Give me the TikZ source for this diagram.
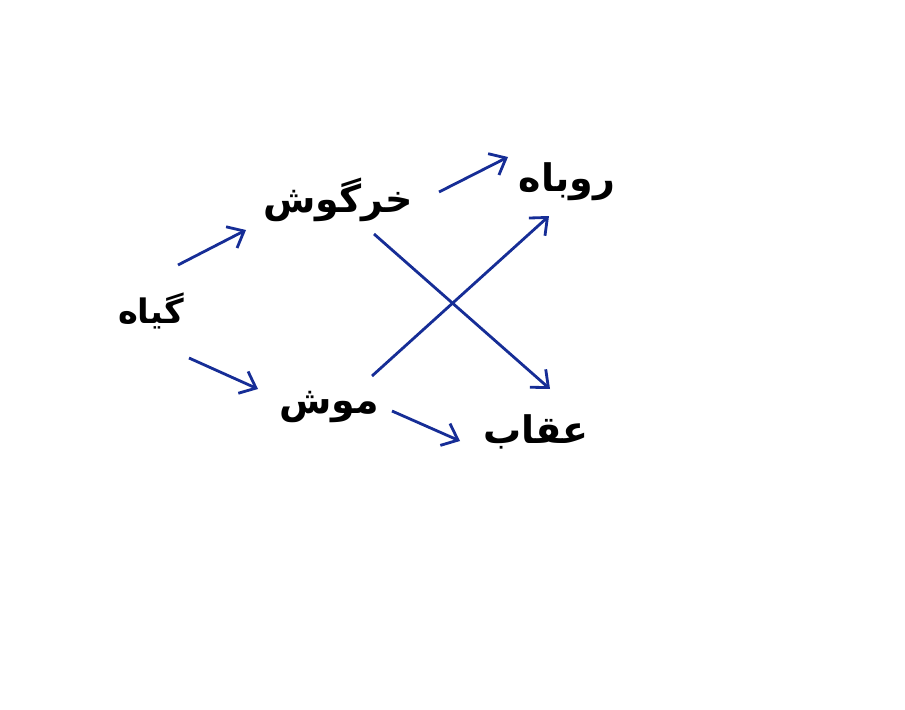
\documentclass[tikz,border=0pt]{standalone}
\usepackage{fontspec}
\newfontfamily\farsi[Script=Arabic]{DejaVu Sans}
\TeXXeTstate=1
\usepackage{xcolor}
\definecolor{arrowblue}{RGB}{22,45,150}
\usetikzlibrary{arrows.meta}

\begin{document}
\begin{tikzpicture}
[x=0.025cm, y=-0.025cm,
 >={Straight Barb[length=10pt,width=17pt]},
 every node/.style={font=\farsi\bfseries\fontsize{27}{31}\selectfont, inner sep=0pt},
 arr/.style={->, draw=arrowblue, line width=2pt},
]
\useasboundingbox (0,0) rectangle (905,709);

\node (giah)  at (151,311) {\fontsize{24}{28}\selectfont\beginR گیاه\endR};
\node (khar)  at (338,200) {\beginR خرگوش\endR};
\node (rubah) at (567,182) {\beginR روباه\endR};
\node (mush)  at (329,407) {\beginR موش\endR};
\node (oghab) at (536,432) {\beginR عقاب\endR};

\draw[arr] ([shift={(27,-46)}]giah.center) -- ([shift={(-92,30)}]khar.center);
\draw[arr] ([shift={(38,47)}]giah.center) -- ([shift={(-71,-18)}]mush.center);
\draw[arr] ([shift={(101,-8)}]khar.center) -- ([shift={(-59,-25)}]rubah.center);
\draw[arr] ([shift={(36,34)}]khar.center) -- ([shift={(14,-43)}]oghab.center);
\draw[arr] ([shift={(43,-31)}]mush.center) -- ([shift={(-18,34)}]rubah.center);
\draw[arr] ([shift={(63,4)}]mush.center) -- ([shift={(-76,9)}]oghab.center);
\end{tikzpicture}
\end{document}
